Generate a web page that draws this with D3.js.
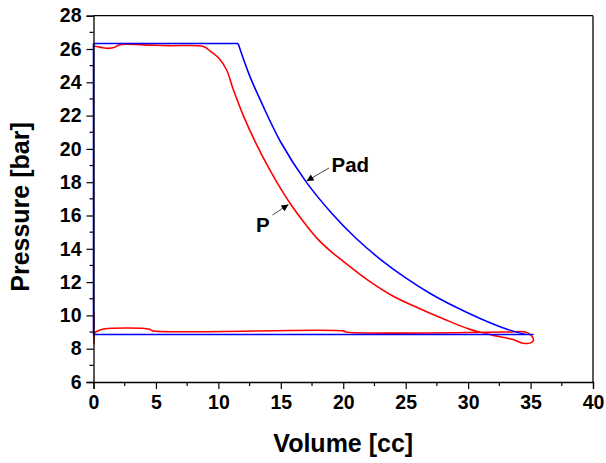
<!DOCTYPE html>
<html>
<head>
<meta charset="utf-8"/>
<title>Pressure vs Volume</title>
<style>
  body { margin: 0; background: #fff; }
  text { font-family: "Liberation Sans", Arial, sans-serif; font-weight: bold; }
  .tick-label { font-size: 19.5px; }
  .axis-title { font-size: 25px; }
  .note { font-size: 20.5px; }
</style>
<script src="https://d3js.org/d3.v7.min.js"></script>
</head>
<body>
<svg id="chart" width="606" height="463"></svg>
<script>
// adiabatic pressure (Pad)
var padVolume   = [0, 11.58, 12.5, 13.5, 15, 17, 19, 21, 23, 25, 27, 29, 31, 33, 34.6, 35.2, 0, 0];
var padPressure = [26.33, 26.33, 24.4, 22.7, 20.4, 18.05, 16.2, 14.65, 13.35, 12.25, 11.3, 10.5, 9.8, 9.2, 8.85, 8.85, 8.85, 26.33];
// indices of the curved compression part
var padCurveStart = 1, padCurveEnd = 14;

// measured pressure (P)
var pVolume   = [0, 0.6, 1.2, 1.7, 2.1, 4, 6, 8.8, 9.3, 10.1, 10.66, 11.18, 12, 13, 14, 15, 16, 17, 18, 19, 20,
                 22, 24, 26, 28, 30, 32, 33.6, 34.4, 35.0, 35.24, 35.05, 34.6, 33, 20.2, 20.0, 4.7, 4.5, 0.8, 0.3, 0.1, 0.03, 0.03];
var pPressure = [26.18, 26.1, 26.04, 26.1, 26.26, 26.25, 26.2, 26.15, 25.9, 25.4, 24.74, 23.6, 22.0, 20.35, 18.9, 17.6, 16.45, 15.45, 14.55, 13.85, 13.25,
                 12.1, 11.15, 10.45, 9.8, 9.2, 8.8, 8.55, 8.33, 8.35, 8.52, 8.8, 9.0, 9.0, 9.0, 9.07, 9.08, 9.17, 9.18, 9.05, 8.95, 8.3, 10.1];

var xTicks = [0, 5, 10, 15, 20, 25, 30, 35, 40];
var yTicks = [6, 8, 10, 12, 14, 16, 18, 20, 22, 24, 26, 28];
var xMinor = [2.5, 7.5, 12.5, 17.5, 22.5, 27.5, 32.5, 37.5];
var yMinor = [7, 9, 11, 13, 15, 17, 19, 21, 23, 25, 27];

var svg = d3.select("#chart");

var plotLeft = 93.5, plotRight = 593, plotTop = 15.7, plotBottom = 382;

var x = d3.scaleLinear().domain([0, 40]).range([plotLeft, plotRight]);
var y = d3.scaleLinear().domain([6, 28]).range([plotBottom, plotTop]);

var straight = d3.line()
  .x(function(d) { return x(d[0]); })
  .y(function(d) { return y(d[1]); });
var smooth = d3.line()
  .x(function(d) { return x(d[0]); })
  .y(function(d) { return y(d[1]); })
  .curve(d3.curveCatmullRom.alpha(0.5));

var padData = padVolume.map(function(v, i) { return [v, padPressure[i]]; });
var pData = pVolume.map(function(v, i) { return [v, pPressure[i]]; });

svg.append("path")
  .attr("d", smooth(pData))
  .attr("fill", "none")
  .attr("stroke", "#ff0000")
  .attr("stroke-width", 1.6)
  .attr("stroke-linejoin", "round");

// blue: flat top, curved compression, flat bottom and back up the axis
var padPaths = [
  straight(padData.slice(0, padCurveStart + 1)),
  smooth(padData.slice(padCurveStart, padCurveEnd + 1)),
  straight(padData.slice(padCurveEnd))
];
svg.selectAll(".pad").data(padPaths).enter().append("path")
  .attr("class", "pad")
  .attr("d", function(d) { return d; })
  .attr("fill", "none")
  .attr("stroke", "#0000ff")
  .attr("stroke-width", 1.6)
  .attr("stroke-linejoin", "round");

// frame top and right
svg.append("line").attr("x1", plotLeft).attr("x2", plotRight).attr("y1", plotTop).attr("y2", plotTop)
  .attr("stroke", "#000").attr("stroke-width", 1.3);
svg.append("line").attr("x1", plotRight).attr("x2", plotRight).attr("y1", plotTop).attr("y2", plotBottom)
  .attr("stroke", "#000").attr("stroke-width", 1.3);

// bottom axis
var xAxis = svg.append("g")
  .attr("transform", "translate(0," + plotBottom + ")")
  .call(d3.axisBottom(x).tickValues(xTicks).tickSize(7).tickPadding(6).tickFormat(d3.format("d")));
xAxis.append("g").selectAll("line").data(xMinor).enter().append("line")
  .attr("x1", function(d) { return x(d); }).attr("x2", function(d) { return x(d); })
  .attr("y1", 0).attr("y2", 4).attr("stroke", "#000").attr("stroke-width", 1.2);

// left axis
var yAxis = svg.append("g")
  .attr("transform", "translate(" + plotLeft + ",0)")
  .call(d3.axisLeft(y).tickValues(yTicks).tickSize(7).tickPadding(5).tickFormat(d3.format("d")));
yAxis.append("g").selectAll("line").data(yMinor).enter().append("line")
  .attr("y1", function(d) { return y(d); }).attr("y2", function(d) { return y(d); })
  .attr("x1", 0).attr("x2", -4).attr("stroke", "#000").attr("stroke-width", 1.2);

[xAxis, yAxis].forEach(function(ax) {
  ax.attr("font-size", null).attr("font-family", null);
  ax.select(".domain").attr("stroke-width", 1.3);
  ax.selectAll(".tick line").attr("stroke-width", 1.2);
  ax.selectAll(".tick text")
    .attr("class", "tick-label")
    .attr("fill", "#000");
});

// axis titles
svg.append("text")
  .attr("class", "axis-title")
  .attr("x", x(20))
  .attr("y", 452)
  .attr("text-anchor", "middle")
  .text("Volume [cc]");

svg.append("text")
  .attr("class", "axis-title")
  .attr("transform", "translate(29,207) rotate(-90)")
  .attr("text-anchor", "middle")
  .text("Pressure [bar]");

// annotations
var defs = svg.append("defs");
defs.append("marker")
  .attr("id", "arrow")
  .attr("viewBox", "0 0 10 10")
  .attr("refX", 10).attr("refY", 5)
  .attr("markerWidth", 9).attr("markerHeight", 7)
  .attr("markerUnits", "userSpaceOnUse")
  .attr("orient", "auto")
  .append("path").attr("d", "M0,0 L10,5 L0,10 z").attr("fill", "#000");

svg.append("line")
  .attr("x1", 329).attr("y1", 168).attr("x2", 306.5).attr("y2", 181)
  .attr("stroke", "#333").attr("stroke-width", 0.9)
  .attr("marker-end", "url(#arrow)");
svg.append("text").attr("class", "note").attr("x", 331.5).attr("y", 172).text("Pad");

svg.append("line")
  .attr("x1", 272.5).attr("y1", 215).attr("x2", 288.5).attr("y2", 204.5)
  .attr("stroke", "#333").attr("stroke-width", 0.9)
  .attr("marker-end", "url(#arrow)");
svg.append("text").attr("class", "note").attr("x", 256).attr("y", 231.5).text("P");
</script>
</body>
</html>
